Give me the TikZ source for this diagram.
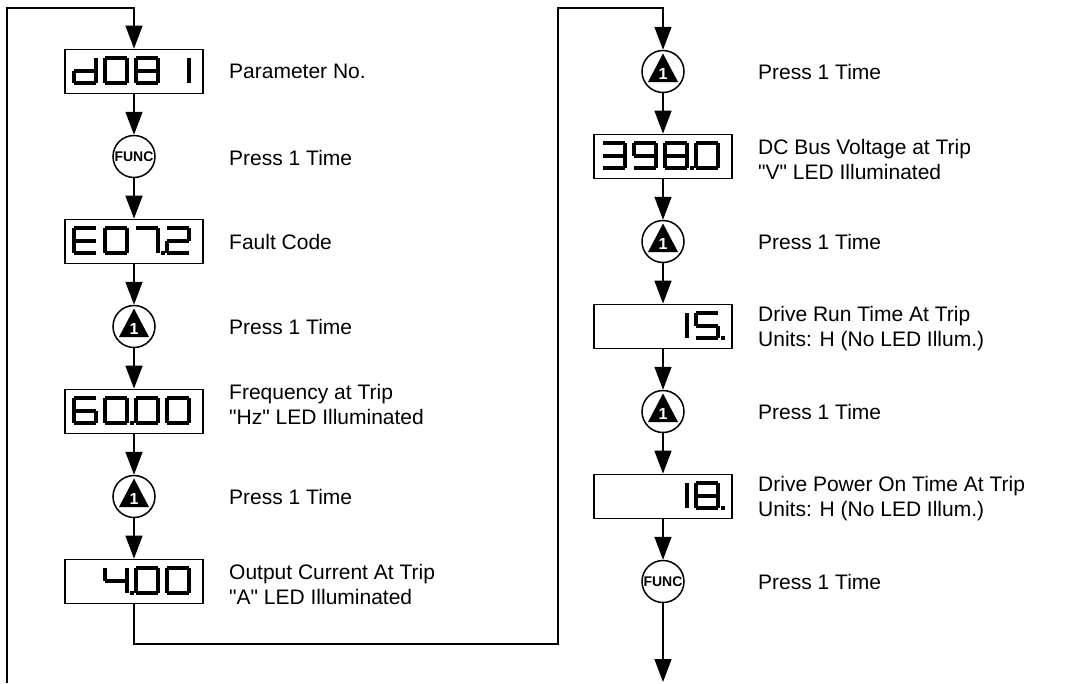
\documentclass[tikz,border=0pt]{standalone}
\usepackage{fontspec}
\setmainfont{Liberation Sans}[Ligatures=TeXOff]
\usetikzlibrary{arrows.meta}

\newcommand\zsA{(0,0)--(22,0)}
\newcommand\zsB{(22,0)--(22,12.5)}
\newcommand\zsC{(22,12.5)--(22,25)}
\newcommand\zsD{(0,25)--(22,25)}
\newcommand\zsE{(0,12.5)--(0,25)}
\newcommand\zsF{(0,0)--(0,12.5)}
\newcommand\zsG{(0,12.5)--(22,12.5)}
\newcommand\zdZero{\zsA\zsB\zsC\zsD\zsE\zsF}
\newcommand\zdOne{\zsB\zsC}
\newcommand\zdTwo{\zsA\zsB\zsG\zsE\zsD}
\newcommand\zdThree{\zsA\zsB\zsG\zsC\zsD}
\newcommand\zdFour{\zsF\zsG\zsB\zsC}
\newcommand\zdFive{\zsA\zsF\zsG\zsC\zsD}
\newcommand\zdSix{\zsA\zsF\zsG\zsE\zsD\zsC}
\newcommand\zdSeven{\zsA\zsB\zsC}
\newcommand\zdEight{\zsA\zsB\zsC\zsD\zsE\zsF\zsG}
\newcommand\zdNine{\zsA\zsB\zsC\zsD\zsF\zsG}
\newcommand\zdE{\zsA\zsD\zsE\zsF\zsG}
\newcommand\zdD{\zsB\zsC\zsD\zsE\zsG}
\newcommand\zdig[2]{\draw[seg,shift={(#1,9.5)}] #2;}
\newcommand\zdp[1]{\fill[shift={(#1,9.5)}] (25,23) rectangle (28.5,27);}
\newcommand\ztri[1]{\fill[shift={(#1)}] (0pt,18pt) -- (15pt,-10.5pt) -- (-15pt,-10.5pt) -- cycle;
  \node[onetxt] (#1n) at ([yshift=-2.5pt]#1) {1};}

\begin{document}
\begin{tikzpicture}[x=1pt,y=-1pt,
  disp/.style={draw, line width=1.8pt, minimum width=138pt, minimum height=44pt, inner sep=0pt},
  btn/.style={circle, draw, line width=1.5pt, minimum size=42pt, inner sep=0pt, fill=white},
  funcbtn/.style={btn, font=\fontsize{14}{14}\selectfont\bfseries},
  tribtn/.style={btn},
  onetxt/.style={inner sep=0pt, text=white, font=\fontsize{16}{16}\selectfont\bfseries},
  conn/.style={line width=1.5pt, -{Triangle[width=17pt,length=23pt]}},
  seg/.style={line width=4pt},
  lbl/.style={anchor=west, align=left, inner sep=0pt, font=\fontsize{21}{25}\selectfont}]

\useasboundingbox (0,0) rectangle (1067,683);

% left column
\node[disp] (d1) at (134,71.5) {};
\node[funcbtn] (f1) at (134,156.5) {FUNC};
\node[disp] (d2) at (134,241.5) {};
\node[tribtn] (t1) at (134,326.5) {};
\node[disp] (d3) at (134,411.5) {};
\node[tribtn] (t2) at (134,496.5) {};
\node[disp] (d4) at (134,581.5) {};

% right column
\node[tribtn] (t3) at (663,71.5) {};
\node[disp] (d5) at (663,156.5) {};
\node[tribtn] (t4) at (663,241.5) {};
\node[disp] (d6) at (663,326.5) {};
\node[tribtn] (t5) at (663,411.5) {};
\node[disp] (d7) at (663,496.5) {};
\node[funcbtn] (f2) at (663,581.5) {FUNC};

% triangle keys
\ztri{t1}\ztri{t2}\ztri{t3}\ztri{t4}\ztri{t5}

% digits
\begin{scope}[shift={(d1.north west)}]
  \zdig{10}{\zdD}\zdig{41}{\zdZero}\zdig{72}{\zdEight}\zdig{103}{\zdOne}
\end{scope}
\begin{scope}[shift={(d2.north west)}]
  \zdig{10}{\zdE}\zdig{41}{\zdZero}\zdig{72}{\zdSeven}\zdp{72}\zdig{103}{\zdTwo}
\end{scope}
\begin{scope}[shift={(d3.north west)}]
  \zdig{10}{\zdSix}\zdig{41}{\zdZero}\zdp{41}\zdig{72}{\zdZero}\zdig{103}{\zdZero}
\end{scope}
\begin{scope}[shift={(d4.north west)}]
  \zdig{41}{\zdFour}\zdp{41}\zdig{72}{\zdZero}\zdig{103}{\zdZero}
\end{scope}
\begin{scope}[shift={(d5.north west)}]
  \zdig{10}{\zdThree}\zdig{41}{\zdNine}\zdig{72}{\zdEight}\zdp{72}\zdig{103}{\zdZero}
\end{scope}
\begin{scope}[shift={(d6.north west)}]
  \zdig{72}{\zdOne}\zdig{103}{\zdFive}\zdp{103}
\end{scope}
\begin{scope}[shift={(d7.north west)}]
  \zdig{72}{\zdOne}\zdig{103}{\zdEight}\zdp{103}
\end{scope}

% labels
\node[lbl] (l1) at (229,71.5) {Parameter No.};
\node[lbl] (l2) at (229,158) {Press 1 Time};
\node[lbl] (l3) at (229,241.5) {Fault Code};
\node[lbl] (l4) at (229,326.5) {Press 1 Time};
\node[lbl] (l5) at (229,404) {Frequency at Trip\\"Hz" LED Illuminated};
\node[lbl] (l6) at (229,496.5) {Press 1 Time};
\node[lbl] (l7) at (229,584) {Output Current At Trip\\"A" LED Illuminated};
\node[lbl] (r1) at (758,71.5) {Press 1 Time};
\node[lbl] (r2) at (758,159) {DC Bus Voltage at Trip\\"V" LED Illuminated};
\node[lbl] (r3) at (758,241.5) {Press 1 Time};
\node[lbl] (r4) at (758,329) {Drive Run Time At Trip\\Units: H (No LED Illum.)};
\node[lbl] (r5) at (758,411.5) {Press 1 Time};
\node[lbl] (r6) at (758,499) {Drive Power On Time At Trip\\Units: H (No LED Illum.)};
\node[lbl] (r7) at (758,581.5) {Press 1 Time};

% connectors
\coordinate (lb) at (7,683);
\coordinate (lt) at (7,8);
\coordinate (c1) at (134,644);
\coordinate (c2) at (558,644);
\coordinate (c3) at (558,8);
\coordinate (cend) at (663,682);

\draw[conn] (lb) -- (lt) -| (d1.north);
\draw[conn] (d1) -- (f1);
\draw[conn] (f1) -- (d2);
\draw[conn] (d2) -- (t1);
\draw[conn] (t1) -- (d3);
\draw[conn] (d3) -- (t2);
\draw[conn] (t2) -- (d4);
\draw[conn] (d4.south) -- (c1) -- (c2) -- (c3) -| (t3.north);
\draw[conn] (t3) -- (d5);
\draw[conn] (d5) -- (t4);
\draw[conn] (t4) -- (d6);
\draw[conn] (d6) -- (t5);
\draw[conn] (t5) -- (d7);
\draw[conn] (d7) -- (f2);
\draw[conn] (f2) -- (cend);
\end{tikzpicture}
\end{document}
